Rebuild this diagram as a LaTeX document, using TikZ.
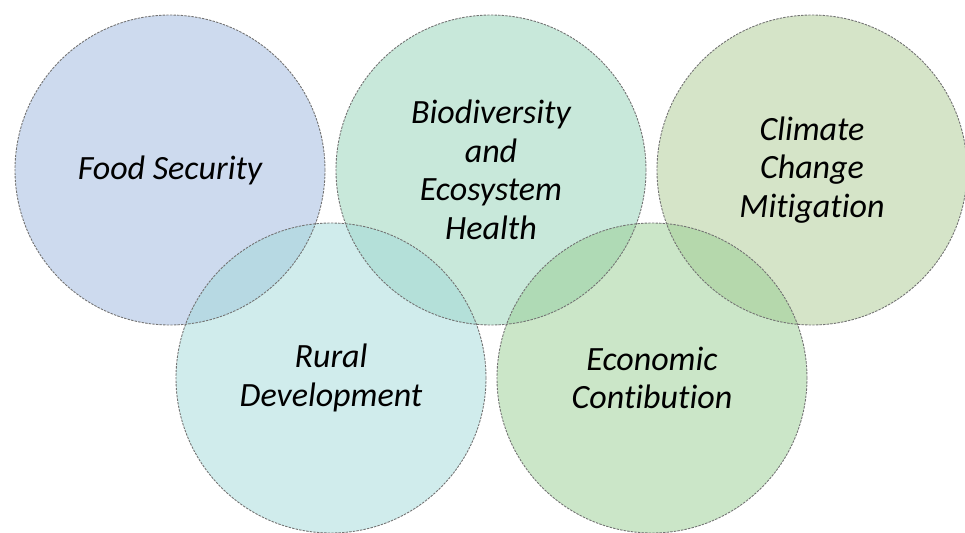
\documentclass[tikz,border=0pt]{standalone}
\usepackage{fontspec}
\setmainfont{Carlito}[Ligatures=NoCommon]
\usepackage{xcolor}
\usepackage{tikz}
\usetikzlibrary{positioning}
\definecolor{colorB}{RGB}{155,181,221}
\definecolor{colorT}{RGB}{145,209,181}
\definecolor{colorL}{RGB}{171,201,145}
\definecolor{colorC}{RGB}{161,217,217}
\definecolor{colorG}{RGB}{151,205,145}
\definecolor{colorRim}{RGB}{115,115,115}
\tikzstyle{area}=[circle, minimum size=155pt, inner sep=0pt, outer sep=0pt, align=center, fill opacity=0.5, text opacity=1, font=\itshape\fontsize{17}{19.25}\selectfont]
\tikzstyle{rim}=[draw=colorRim, line width=0.45pt, dash pattern=on 1.2pt off 0.6pt]

\begin{document}
\begin{tikzpicture}[x=0.5pt,y=-0.5pt,node distance=5.5pt]
\useasboundingbox (0,0) rectangle (965,532);

% top row
\node (food) [area,fill=colorB] at (170,170) {Food Security};
\node (bio) [area,fill=colorT,right=of food] {Biodiversity\\and\\Ecosystem\\Health};
\node (climate) [area,fill=colorL,right=of bio] {Climate\\Change\\Mitigation};

% bottom row
\node (rural) [area,fill=colorC,below right=-5.6pt and -29.1pt of food] {Rural\\Development};
\node (econ) [area,fill=colorG,right=of rural] {Economic\\Contibution};

% rims over all fills
\foreach \n in {food,bio,climate,rural,econ}
  \draw [rim] (\n.center) circle [radius=77.5pt];

\end{tikzpicture}
\end{document}
